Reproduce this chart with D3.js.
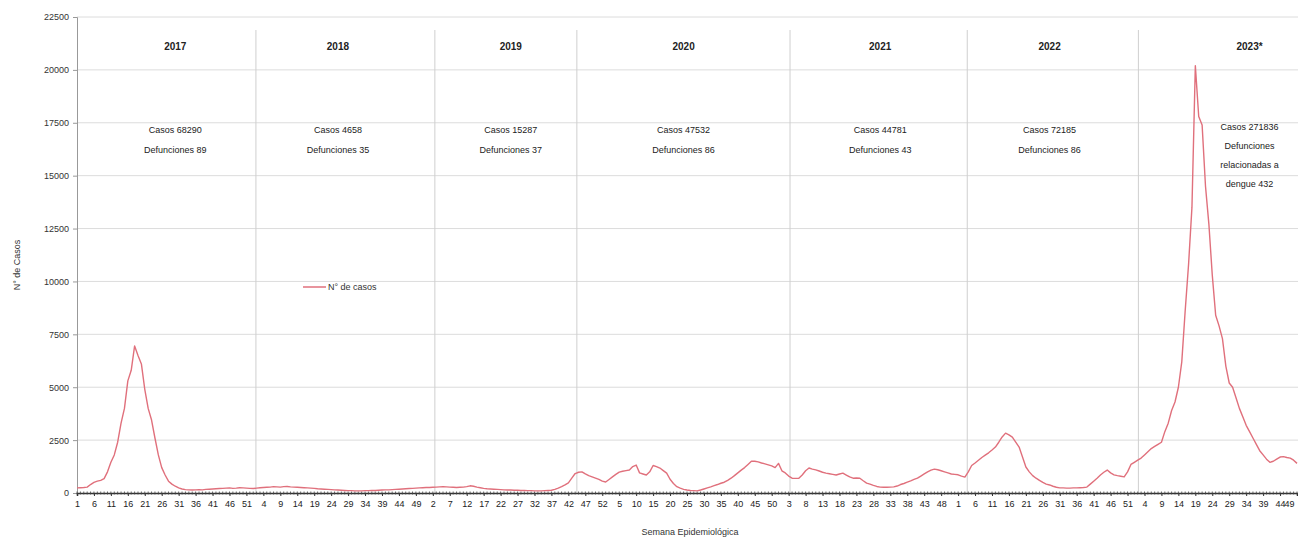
<!DOCTYPE html>
<html><head><meta charset="utf-8">
<script src="https://cdn.jsdelivr.net/npm/d3@7"></script>
<style>
html,body{margin:0;padding:0;background:#fff;}
svg{display:block;font-family:"Liberation Sans",Arial,sans-serif;}
</style></head>
<body>
<svg id="chart" width="1298" height="542"></svg>
<script>
// ---- Data (weekly dengue cases) ----
const years = ["2017","2018","2019","2020","2021","2022","2023*"];
const weeksPerYear = [52,52,52,52,52,52,49];
const casos2017 = [240,250,260,280,400,500,560,600,680,1000,1450,1800,2400,3300,4000,5300,5800,6950,6500,6100,4900,4000,3450,2600,1800,1200,850,560,420,320,240,190,160,150,140,150,160,150,170,180,190,200,210,220,230,240,220,230,250,240,230,220];
const casos2018 = [210,230,250,260,270,280,300,290,280,300,310,290,280,270,260,250,240,230,220,200,190,180,170,160,150,140,130,120,110,110,100,100,100,110,110,120,120,130,140,150,150,160,170,180,190,200,210,220,230,240,250,260];
const casos2019 = [260,270,280,290,300,290,280,270,260,270,280,300,340,320,280,250,220,200,190,180,170,160,150,140,140,130,130,120,120,110,110,100,100,100,110,120,130,170,230,300,380,480,700,920,980,1000,900,820,760,700,640,560];
const casos2020 = [520,640,760,880,990,1030,1060,1090,1250,1320,950,900,850,1000,1300,1250,1180,1060,940,650,450,300,230,170,140,120,110,100,140,190,240,290,350,400,460,510,600,700,820,950,1080,1200,1350,1500,1500,1470,1420,1380,1330,1280,1200,1400];
const casos2021 = [1050,950,800,700,690,700,850,1050,1180,1130,1090,1040,980,940,910,880,850,900,940,850,760,700,710,700,580,470,420,360,310,280,270,270,280,290,330,400,450,510,570,640,700,800,900,1000,1080,1130,1100,1050,1000,950,900,880];
const casos2022 = [860,800,750,1000,1300,1420,1550,1680,1790,1900,2030,2170,2400,2650,2830,2750,2640,2400,2170,1700,1230,1000,820,700,600,500,420,380,320,270,240,240,230,230,240,240,250,260,280,420,560,700,850,980,1085,950,860,820,790,760,1000,1350];
const casos2023 = [1450,1550,1650,1800,1950,2100,2200,2300,2400,2900,3300,3900,4300,5000,6200,8600,10800,13500,20200,17800,17400,14500,12700,10300,8400,7900,7300,6000,5200,5000,4500,4000,3600,3200,2900,2600,2300,2000,1800,1600,1450,1500,1600,1700,1720,1680,1650,1550,1400];
const yTicks = [0,2500,5000,7500,10000,12500,15000,17500,20000,22500];
const anotaciones = [
  ["Casos 68290","Defunciones 89"],
  ["Casos 4658","Defunciones 35"],
  ["Casos 15287","Defunciones 37"],
  ["Casos 47532","Defunciones 86"],
  ["Casos 44781","Defunciones 43"],
  ["Casos 72185","Defunciones 86"],
  ["Casos 271836","Defunciones","relacionadas a","dengue 432"]
];
// position (week index) of the year divider lines and year labels, as drawn in the original
const divisores = [52.8, 105.6, 147.5, 210.4, 262.7, 313.2];
const posEtiqueta = [29, 77, 128, 179, 237, 287, 346];
const tituloX = "Semana Epidemiológica";
const tituloY = "N° de Casos";
const leyenda = "N° de casos";

// ---- Build series ----
const serie = [].concat(casos2017,casos2018,casos2019,casos2020,casos2021,casos2022,casos2023);
const semanas = [];
weeksPerYear.forEach(n => { for (let w=1; w<=n; w++) semanas.push(w); });
const data = serie.map((v,i)=>({i, v, w: semanas[i]}));

// ---- Layout ----
const svg = d3.select("#chart");
const L = 77, R = 1297, T = 17, B = 493;
const x = d3.scaleLinear().domain([0, data.length-1]).range([L, R]);
const y = d3.scaleLinear().domain([0, 22500]).range([B, T]);
const red = "#e0707c";

// gridlines
svg.append("g").selectAll("line").data(yTicks.filter(d=>d>0)).join("line")
  .attr("x1", L).attr("x2", 1298).attr("y1", d=>y(d)).attr("y2", d=>y(d))
  .attr("stroke", "#dcdcdc").attr("stroke-width", 1);

// year dividers
svg.append("g").selectAll("line").data(divisores).join("line")
  .attr("x1", d=>x(d)).attr("x2", d=>x(d)).attr("y1", 30).attr("y2", B)
  .attr("stroke", "#cfcfcf").attr("stroke-width", 1);

// y axis
const yAxis = d3.axisLeft(y).tickValues(yTicks).tickSize(4).tickPadding(4).tickFormat(d3.format("d"));
const gy = svg.append("g").attr("transform", `translate(${L},0)`).call(yAxis);
gy.select(".domain").attr("stroke", "#999");
gy.selectAll(".tick line").attr("stroke", "#999");
gy.selectAll("text").attr("font-size", 9).attr("fill", "#333");

// x axis
const tickIdx = data.filter(d => d.i % 5 === 0).map(d => d.i);
const xAxis = d3.axisBottom(x).tickValues(tickIdx).tickSize(3).tickPadding(5)
  .tickFormat(i => semanas[i]);
const gx = svg.append("g").attr("transform", `translate(0,${B})`).call(xAxis);
gx.select(".domain").attr("stroke", "#333").attr("stroke-width", 1.5);
gx.selectAll(".tick line").attr("stroke", "#333");
gx.selectAll("text").attr("font-size", 9).attr("fill", "#222");
// keep the last label inside the picture
gx.selectAll(".tick text").filter(d => x(d) > R - 8).attr("text-anchor", "end").attr("dx", -3);
// minor weekly ticks
svg.append("g").selectAll("line").data(data).join("line")
  .attr("x1", d=>x(d.i)).attr("x2", d=>x(d.i)).attr("y1", B-1.5).attr("y2", B+1.5)
  .attr("stroke", "#444").attr("stroke-width", 0.8);

// line
const line = d3.line().x(d=>x(d.i)).y(d=>y(d.v));
svg.append("path").datum(data).attr("d", line)
  .attr("fill", "none").attr("stroke", red).attr("stroke-width", 1.4).attr("stroke-linejoin","round");

// year labels and annotations
const gYears = svg.append("g").attr("font-size", 10).attr("fill", "#222").attr("text-anchor", "middle");
years.forEach((yr, k) => {
  const cx = x(posEtiqueta[k]);
  gYears.append("text").attr("x", cx).attr("y", 50).attr("font-weight", "bold").text(yr);
  const lines = anotaciones[k];
  const y0 = lines.length > 2 ? 130 : 133;
  const dy = lines.length > 2 ? 19 : 20;
  lines.forEach((t, j) => {
    gYears.append("text").attr("x", cx).attr("y", y0 + j*dy).attr("font-size", 9).text(t);
  });
});

// legend
svg.append("line").attr("x1", 303).attr("x2", 326).attr("y1", 287).attr("y2", 287)
  .attr("stroke", red).attr("stroke-width", 1.5);
svg.append("text").attr("x", 328).attr("y", 290).attr("font-size", 9).attr("fill", "#333").text(leyenda);

// axis titles
svg.append("text").attr("x", 690).attr("y", 535).attr("text-anchor", "middle")
  .attr("font-size", 9).attr("fill", "#333").text(tituloX);
svg.append("text").attr("transform", `translate(20,265) rotate(-90)`).attr("text-anchor", "middle")
  .attr("font-size", 9).attr("fill", "#333").text(tituloY);
</script>
</body></html>
